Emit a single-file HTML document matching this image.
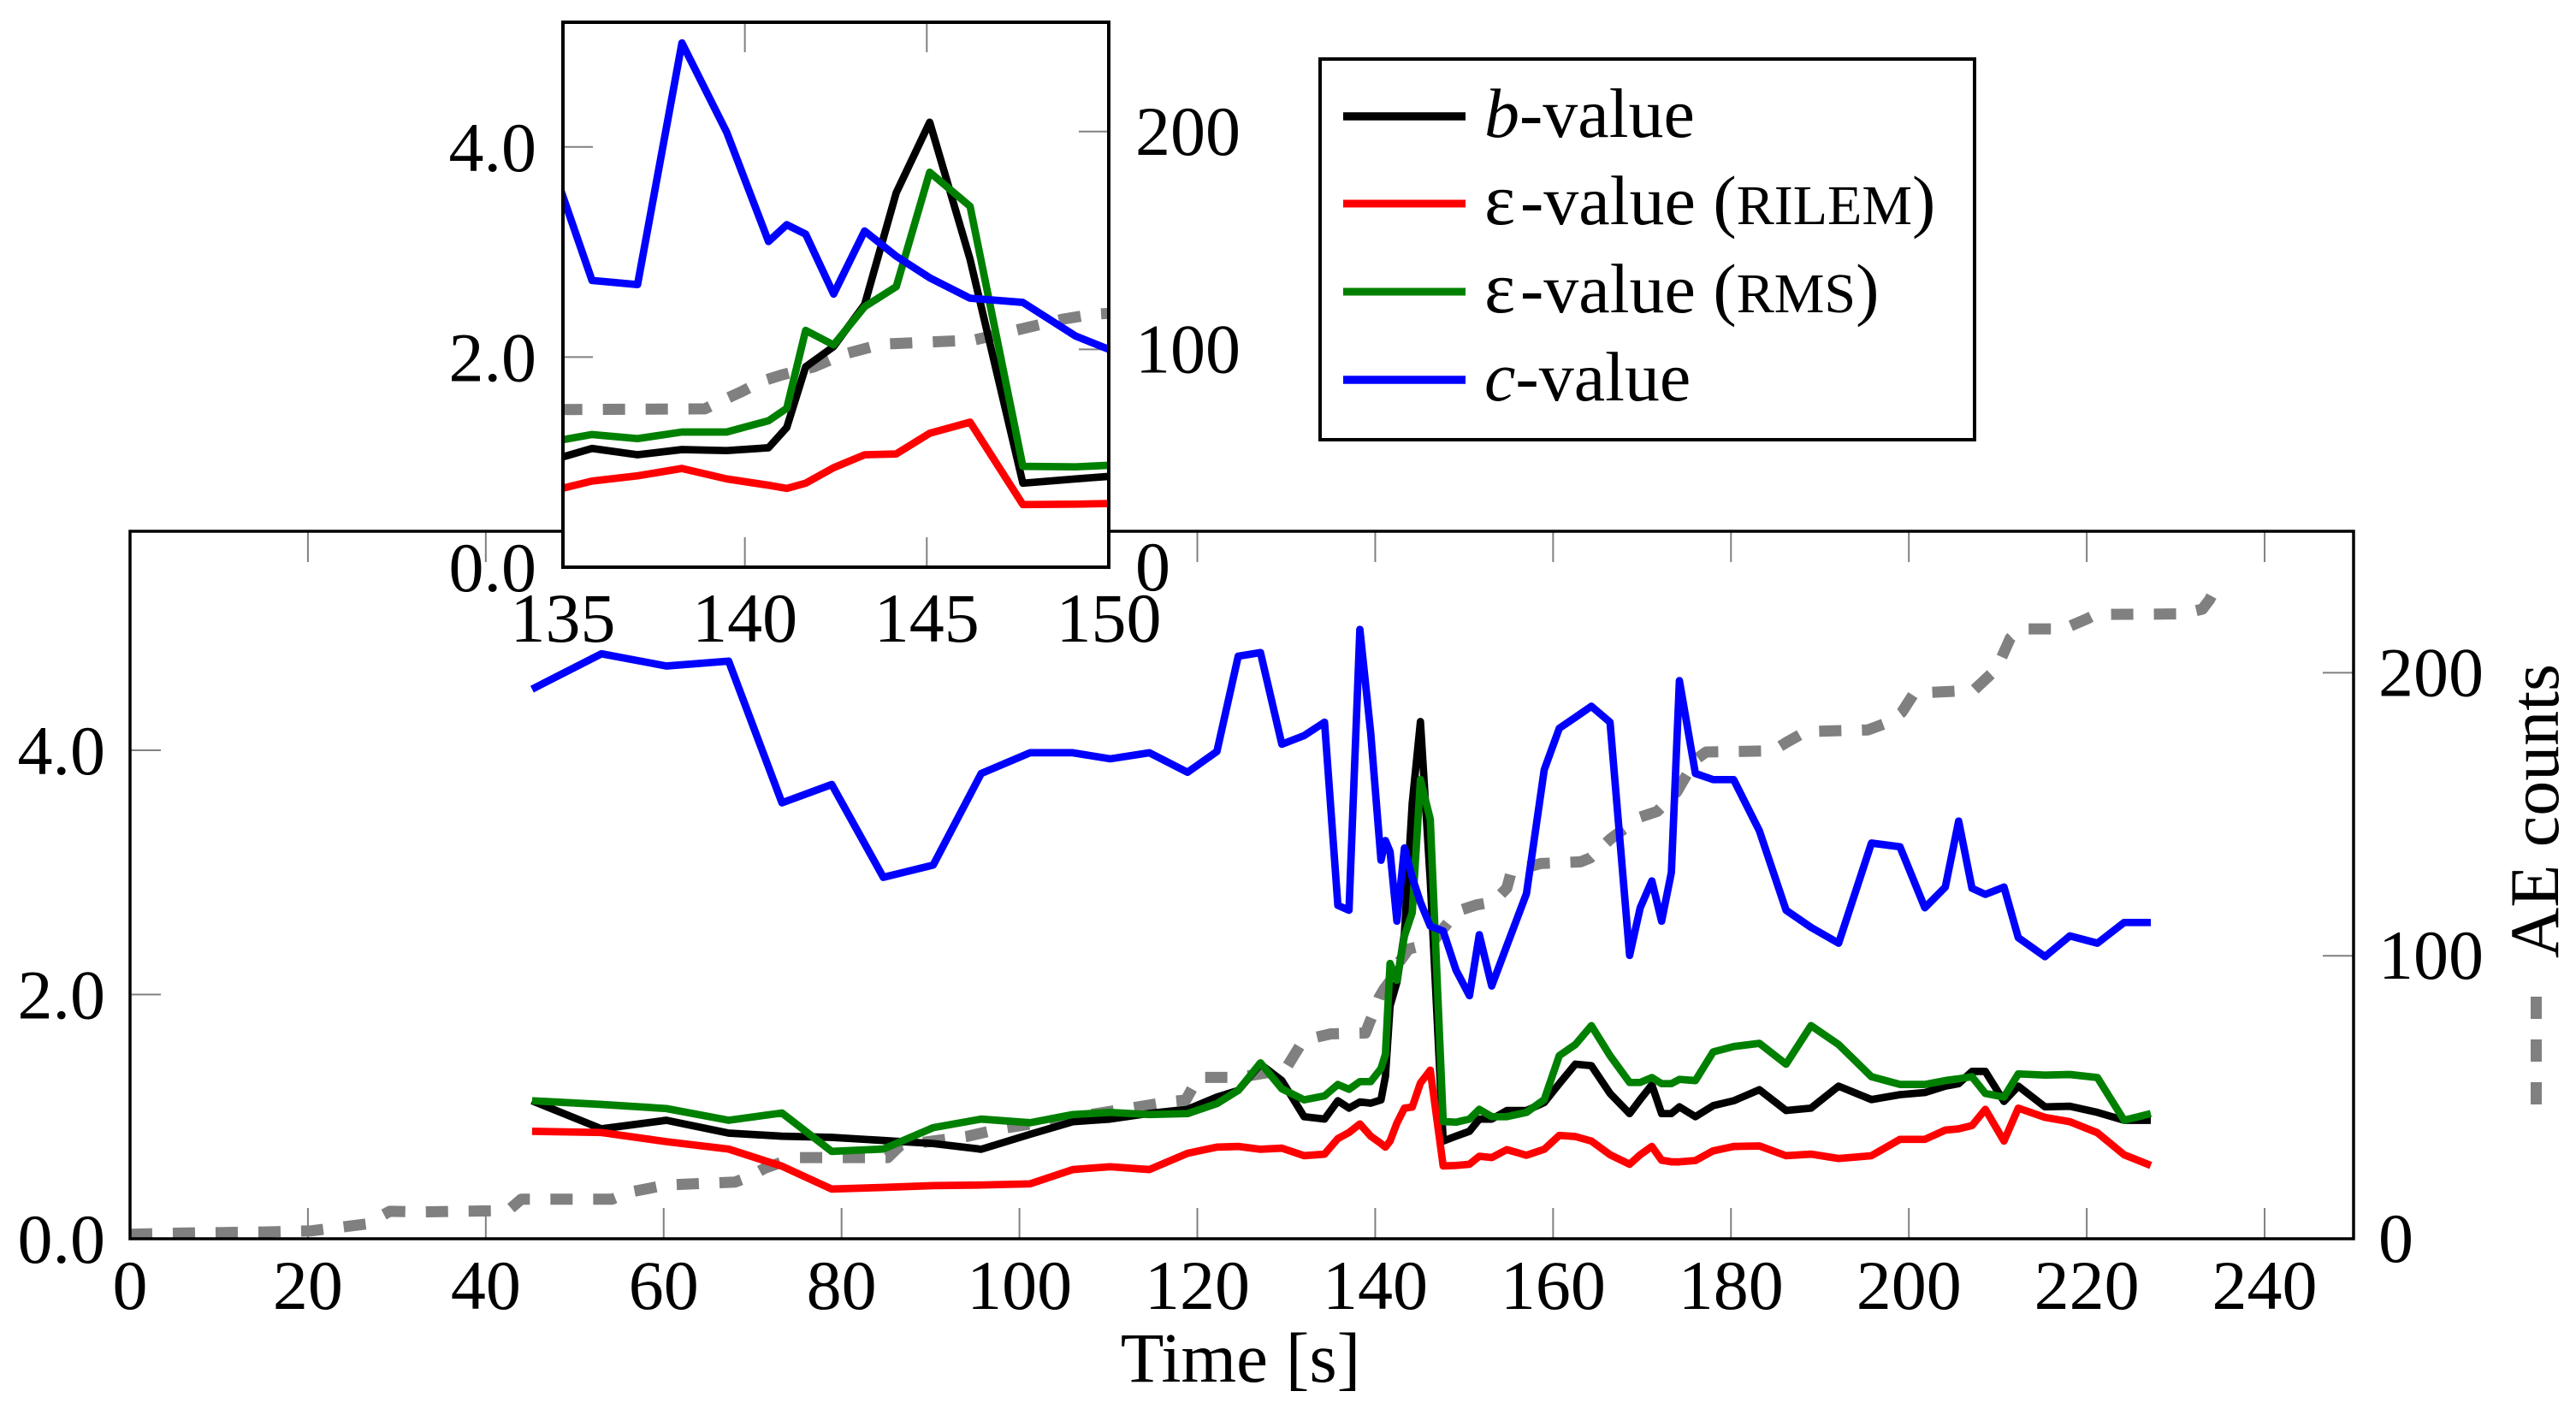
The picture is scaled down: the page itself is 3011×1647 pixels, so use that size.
<!DOCTYPE html>
<html lang="en">
<head>
<meta charset="utf-8">
<title>b-value, ε-value and c-value over time with AE counts</title>
<style>
html,body{margin:0;padding:0;background:#fff;width:3011px;height:1647px;overflow:hidden}
svg{display:block}
text{font-family:"Liberation Serif",serif;font-size:82px;fill:#000}
</style>
</head>
<body>
<svg id="chart" xmlns="http://www.w3.org/2000/svg" width="3011" height="1647" viewBox="0 0 3011 1647">
  <defs>
    <clipPath id="main-clip"><rect x="152" y="621" width="2599" height="827"/></clipPath>
    <clipPath id="inset-clip"><rect x="658" y="26" width="638" height="637"/></clipPath>
  </defs>
  <rect x="0" y="0" width="3011" height="1647" fill="#fff"/>
  <g id="main-plot"></g>
  <rect x="152" y="621" width="2599" height="827" fill="none" stroke="#000" stroke-width="3.5"/>
  <text x="1450" y="1615" font-size="83" text-anchor="middle" style="font-size:83px">Time [s]</text>
  <text x="2990" y="1120" transform="rotate(-90 2990 1120)">AE counts</text>
  <line x1="2964.5" y1="1291" x2="2964.5" y2="1165" stroke="#808080" stroke-width="13" stroke-dasharray="26 24"/>

  <rect x="658" y="26" width="638" height="637" fill="#fff"/>
  <g id="inset-plot"></g>
  <rect x="658" y="26" width="638" height="637" fill="none" stroke="#000" stroke-width="4"/>

  <g>
    <rect x="1543" y="69" width="765" height="445" fill="#fff" stroke="#000" stroke-width="4"/>
    <line x1="1570" y1="136" x2="1713" y2="136" stroke="#000" stroke-width="9.5"/>
    <text x="1735" y="160"><tspan font-style="italic">b</tspan>-value</text>
    <line x1="1570" y1="238" x2="1713" y2="238" stroke="#f00" stroke-width="9"/>
    <text x="1735" y="262"><tspan style="font-size:86px">ε</tspan><tspan x="1777">-value (</tspan><tspan style="font-size:66px">RILEM</tspan>)</text>
    <line x1="1570" y1="341" x2="1713" y2="341" stroke="#008000" stroke-width="9"/>
    <text x="1735" y="365"><tspan style="font-size:86px">ε</tspan><tspan x="1777">-value (</tspan><tspan style="font-size:66px">RMS</tspan>)</text>
    <line x1="1570" y1="444" x2="1713" y2="444" stroke="#00f" stroke-width="9.5"/>
    <text x="1735" y="468"><tspan font-style="italic">c</tspan>-value</text>
  </g>
</svg>
<script>
// ---- data ----
const eventTimes = [45.2,53,60.3,67.3,73.3,78.9,84.7,90.3,95.7,101.2,106,110.2,114.6,118.9,122.2,124.6,127.1,129.5,132,134.3,135.8,137.05,138.27,139.5,140.65,141.15,141.67,142.44,143.29,144.16,145.08,146.19,147.64,149.09,150.6,151.7,153.1,154.8,157,159,160.7,162.5,164.3,166.4,168.6,169.8,171.1,172.2,173.3,174.2,176,178,180.3,183.2,186.2,189,192.1,195.8,199,201.8,204.1,205.6,207.1,208.6,210.7,212.3,215.3,218.1,221.2,224.2,227.2];
const bValues = [1.13,.90,.97,.865,.84,.83,.805,.78,.733,.855,.958,.98,1.026,1.06,1.16,1.215,1.43,1.295,1.0,.98,1.13,1.07,1.12,1.11,1.137,1.33,1.907,2.10,2.5,3.565,4.235,2.93,.80,.84,.88,.98,.98,1.05,1.05,1.115,1.27,1.43,1.417,1.19,1.025,1.14,1.26,1.025,1.025,1.08,1.0,1.09,1.13,1.22,1.05,1.07,1.25,1.14,1.18,1.197,1.25,1.27,1.37,1.37,1.125,1.25,1.08,1.085,1.035,.97,.97];
const eRilemValues = [.88,.87,.795,.734,.594,.407,.42,.435,.44,.45,.567,.59,.567,.70,.75,.756,.733,.742,.68,.693,.82,.87,.94,.84,.78,.75,.80,.947,1.07,1.078,1.275,1.38,.596,.60,.61,.675,.665,.73,.684,.733,.846,.837,.80,.688,.61,.688,.756,.643,.63,.63,.64,.72,.756,.76,.68,.693,.657,.68,.814,.814,.89,.90,.927,1.06,.80,1.07,.994,.958,.868,.688,.60];
const eRmsValues = [1.13,1.10,1.066,.97,1.03,.715,.735,.91,.98,.95,1.017,1.035,1.017,1.025,1.107,1.215,1.44,1.228,1.138,1.17,1.263,1.224,1.287,1.287,1.394,1.512,2.254,2.116,2.48,2.67,3.76,3.435,.96,.955,.98,1.06,1.0,1.0,1.035,1.14,1.50,1.59,1.745,1.50,1.28,1.28,1.32,1.27,1.27,1.305,1.295,1.53,1.574,1.60,1.43,1.745,1.59,1.327,1.264,1.264,1.295,1.31,1.327,1.19,1.16,1.35,1.34,1.345,1.32,.97,1.025];
const cValues = [4.50,4.79,4.69,4.73,3.57,3.72,2.96,3.06,3.81,3.98,3.98,3.93,3.98,3.82,3.99,4.77,4.80,4.05,4.12,4.23,2.73,2.69,4.99,4.14,3.10,3.26,3.17,2.60,3.20,2.96,2.755,2.56,2.52,2.20,1.99,2.49,2.07,2.40,2.825,3.84,4.18,4.27,4.36,4.23,2.32,2.71,2.93,2.60,3.00,4.57,3.81,3.76,3.76,3.34,2.69,2.55,2.42,3.24,3.21,2.71,2.88,3.42,2.87,2.82,2.88,2.465,2.31,2.48,2.42,2.59,2.59];
const aeTimes = [0,5.6,15,20.4,24.5,26.5,29.2,32.6,40.7,42.7,44,54.2,56.2,60.3,68,69.7,71.4,74.8,85.2,86.6,94,97.8,111.8,117,118.7,119.4,120,124.7,129.9,131.6,132.9,135,138.9,139.4,139.9,140.45,141,141.9,142.7,143.76,146.3,147.5,148.75,149.56,151.4,153.3,154.8,155.3,158.6,163.1,164.2,166.5,169.8,171.7,173.9,174.6,176.1,177.2,184.7,186.2,188.4,195.4,197.7,199.2,200.6,207.3,209.6,210.3,211.4,212.5,217.4,220,221,230.7,233,233.8,234.4];
const aeCounts = [1.6,2,2.4,2.8,4.4,5.2,9.7,9.5,9.9,10.5,14,14,16.5,19,20,22,25,28.7,28.7,33,36.1,38.8,45.8,48.5,49,53,57,57,59.8,68.5,70.9,72.4,72.7,76.7,80.5,85.3,88.2,92,97.7,102.4,104.3,109,113.9,116.1,118,119,123.9,129.7,132.6,133.2,134.6,141.4,149,151,157.9,161.7,169.5,172,172.4,175.3,179.2,179.8,182.5,186,192.8,193.8,200.6,204.5,212.2,215.5,215.5,219,220.6,220.8,222.5,225.8,229.3];

// ---- tick labels ----
const mainXTicks = [0,20,40,60,80,100,120,140,160,180,200,220,240];
const mainLeftTicks = [0,2,4];
const rightTicks = [0,100,200];
const insetXTicks = [135,140,145,150];
const insetLeftTicks = [0,2,4];

// ---- axis functions ----
const mainX = t => 152 + t * 10.396;
const mainY = v => 1448 - v * 142.75;
const mainYR = c => 1448 - c * 3.308;
const insetX = t => 658 + (t - 135) * 42.53;
const insetY = v => 663 - v * 122.8;
const insetYR = c => 663 - c * 2.546;

const NS = 'http://www.w3.org/2000/svg';
function make(tag, attrs, parent) {
  const el = document.createElementNS(NS, tag);
  for (const k in attrs) el.setAttribute(k, attrs[k]);
  parent.appendChild(el);
  return el;
}
function pathFrom(xs, ys, fx, fy) {
  return xs.map((x, i) => (i ? 'L' : 'M') + fx(x).toFixed(1) + ' ' + fy(ys[i]).toFixed(1)).join('');
}
const tickStyle = {stroke: '#808080', 'stroke-width': 2};
const lineW = 8.7;

function drawSeries(group, fx, fy, fyR) {
  const ae = make('path', {d: pathFrom(aeTimes, aeCounts, fx, fyR), fill: 'none', stroke: '#808080', 'stroke-width': 13, 'stroke-dasharray': '26 24', 'stroke-linejoin': 'round'}, group);
  
  
  const b = make('path', {d: pathFrom(eventTimes, bValues, fx, fy), fill: 'none', stroke: '#000', 'stroke-width': lineW, 'stroke-linejoin': 'round'}, group);
  
  
  const red = make('path', {d: pathFrom(eventTimes, eRilemValues, fx, fy), fill: 'none', stroke: '#f00', 'stroke-width': lineW, 'stroke-linejoin': 'round'}, group);
  
  
  const green = make('path', {d: pathFrom(eventTimes, eRmsValues, fx, fy), fill: 'none', stroke: '#008000', 'stroke-width': lineW, 'stroke-linejoin': 'round'}, group);
  
  
  const blue = make('path', {d: pathFrom(eventTimes, cValues, fx, fy), fill: 'none', stroke: '#00f', 'stroke-width': lineW, 'stroke-linejoin': 'round'}, group);
  
  
}

// ---- main plot ----
const mainG = document.getElementById('main-plot');
const mainTicksG = make('g', {}, mainG);


mainXTicks.forEach(t => {
  const x = mainX(t);
  const bot = make('line', Object.assign({x1: x, x2: x, y1: 1448, y2: 1412}, tickStyle), mainTicksG);
  
  
  const top = make('line', Object.assign({x1: x, x2: x, y1: 621, y2: 657}, tickStyle), mainTicksG);
  
  
  const lab = make('text', {x: x, y: 1530, 'text-anchor': 'middle'}, mainG);
  
  
  lab.textContent = t;
});
mainLeftTicks.forEach(v => {
  const y = mainY(v);
  const tk = make('line', Object.assign({x1: 152, x2: 188, y1: y, y2: y}, tickStyle), mainTicksG);
  
  
  const lab = make('text', {x: 123, y: y + 28, 'text-anchor': 'end'}, mainG);
  
  
  lab.textContent = v.toFixed(1);
});
rightTicks.forEach(c => {
  const y = mainYR(c);
  const tk = make('line', Object.assign({x1: 2715, x2: 2751, y1: y, y2: y}, tickStyle), mainTicksG);
  
  
  const lab = make('text', {x: 2780, y: y + 27}, mainG);
  
  
  lab.textContent = c;
});
const mainSeries = make('g', {'clip-path': 'url(#main-clip)'}, mainG);


drawSeries(mainSeries, mainX, mainY, mainYR);

// ---- inset plot ----
const insetG = document.getElementById('inset-plot');
const insetTicksG = make('g', {}, insetG);


insetXTicks.forEach(t => {
  const x = insetX(t);
  const bot = make('line', Object.assign({x1: x, x2: x, y1: 663, y2: 628}, tickStyle), insetTicksG);
  
  
  const top = make('line', Object.assign({x1: x, x2: x, y1: 26, y2: 61}, tickStyle), insetTicksG);
  
  
  const lab = make('text', {x: x, y: 750, 'text-anchor': 'middle'}, insetG);
  
  
  lab.textContent = t;
});
insetLeftTicks.forEach(v => {
  const y = insetY(v);
  const tk = make('line', Object.assign({x1: 658, x2: 693, y1: y, y2: y}, tickStyle), insetTicksG);
  
  
  const lab = make('text', {x: 627, y: y + 28, 'text-anchor': 'end'}, insetG);
  
  
  lab.textContent = v.toFixed(1);
});
rightTicks.forEach(c => {
  const y = insetYR(c);
  const tk = make('line', Object.assign({x1: 1261, x2: 1296, y1: y, y2: y}, tickStyle), insetTicksG);
  
  
  const lab = make('text', {x: 1327, y: y + 27}, insetG);
  
  
  lab.textContent = c;
});
const insetSeries = make('g', {'clip-path': 'url(#inset-clip)'}, insetG);


drawSeries(insetSeries, insetX, insetY, insetYR);
</script>
</body>
</html>
